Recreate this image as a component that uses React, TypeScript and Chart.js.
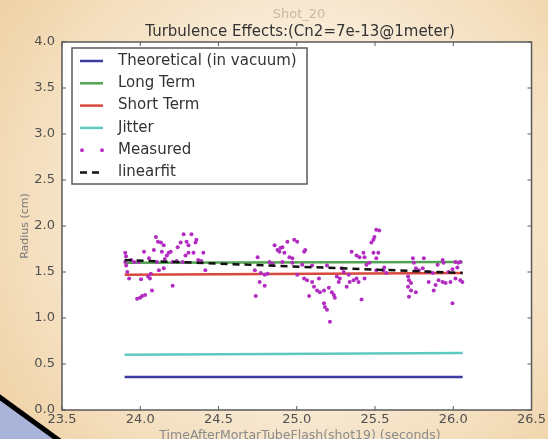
import React, { useEffect, useRef } from 'react';
import { Chart, registerables } from 'chart.js';
Chart.register(...registerables);

const titleTop = 'Shot_20';
const titleMain = 'Turbulence Effects:(Cn2=7e-13@1meter)';
const xAxisTitle = 'TimeAfterMortarTubeFlash(shot19) (seconds)';
const yAxisTitle = 'Radius (cm)';

const xTicks = [23.5, 24.0, 24.5, 25.0, 25.5, 26.0, 26.5];
const yTicks = [0.0, 0.5, 1.0, 1.5, 2.0, 2.5, 3.0, 3.5, 4.0];

const lineX = [23.9, 26.06];
const theoretical = [0.36, 0.36];
const longTerm = [1.6, 1.61];
const shortTerm = [1.47, 1.49];
const jitter = [0.6, 0.62];
const linearFit = [1.63, 1.49];

const measuredX = [
  23.904, 23.909, 23.904, 23.91, 23.917, 23.929, 23.942, 23.961, 23.98, 23.99, 23.999, 24.005, 24.012, 24.024, 24.031,
  24.05, 24.056, 24.062, 24.068, 24.075, 24.087, 24.1, 24.107, 24.113, 24.119, 24.132, 24.138, 24.15, 24.15, 24.157,
  24.17, 24.182, 24.195, 24.207, 24.207, 24.233, 24.239, 24.258, 24.27, 24.277, 24.289, 24.296, 24.308, 24.308, 24.327,
  24.34, 24.353, 24.359, 24.37, 24.39, 24.403, 24.416,
  24.732, 24.738, 24.75, 24.763, 24.77, 24.795, 24.795, 24.814, 24.826, 24.845, 24.858, 24.877, 24.889, 24.896, 24.908,
  24.908, 24.921, 24.94, 24.953, 24.972, 24.972, 24.984, 25.003, 25.003, 25.035, 25.047, 25.047, 25.054, 25.066, 25.079,
  25.098, 25.098, 25.11, 25.13, 25.142, 25.148, 25.174, 25.174, 25.18, 25.193, 25.193, 25.205, 25.212, 25.224, 25.237,
  25.243, 25.256, 25.268, 25.275, 25.287, 25.3, 25.319, 25.332, 25.338, 25.35, 25.363, 25.382, 25.382, 25.395, 25.401,
  25.414, 25.426, 25.433, 25.433, 25.445, 25.464, 25.477, 25.49, 25.49, 25.496, 25.508, 25.508, 25.508, 25.521, 25.527,
  25.553, 25.559, 25.572,
  25.711, 25.711, 25.717, 25.717, 25.73, 25.73, 25.742, 25.748, 25.761, 25.761, 25.78, 25.805, 25.812, 25.837, 25.843,
  25.869, 25.875, 25.887, 25.9, 25.906, 25.932, 25.932, 25.938, 25.951, 25.969, 25.982, 25.995, 25.995, 26.014, 26.014,
  26.026, 26.033, 26.045, 26.045, 26.058,
];
const measuredY = [
  1.71, 1.67, 1.61, 1.57, 1.5, 1.43, 1.63, 1.61, 1.21, 1.61, 1.22, 1.42, 1.24, 1.72, 1.25,
  1.45, 1.65, 1.43, 1.48, 1.3, 1.74, 1.88, 1.61, 1.83, 1.52, 1.82, 1.72, 1.79, 1.54, 1.64,
  1.68, 1.71, 1.72, 1.35, 1.61, 1.62, 1.77, 1.82, 1.61, 1.91, 1.68, 1.83, 1.79, 1.71, 1.91,
  1.71, 1.82, 1.85, 1.63, 1.62, 1.71, 1.52,
  1.52, 1.24, 1.66, 1.39, 1.49, 1.47, 1.35, 1.48, 1.61, 1.59, 1.79, 1.74, 1.72, 1.76, 1.77,
  1.61, 1.71, 1.83, 1.66, 1.65, 1.6, 1.85, 1.83, 1.47, 1.58, 1.72, 1.43, 1.74, 1.41, 1.24,
  1.39, 1.57, 1.34, 1.3, 1.43, 1.28, 1.3, 1.16, 1.12, 1.09, 1.57, 1.33, 0.96, 1.28, 1.25,
  1.22, 1.45, 1.39, 1.43, 1.54, 1.5, 1.34, 1.47, 1.39, 1.72, 1.41, 1.43, 1.68, 1.39, 1.66,
  1.2, 1.71, 1.66, 1.43, 1.58, 1.6, 1.82, 1.85, 1.71, 1.88, 1.96, 1.65, 1.52, 1.71, 1.95,
  1.52, 1.55, 1.49,
  1.45, 1.34, 1.41, 1.23, 1.38, 1.3, 1.65, 1.6, 1.54, 1.28, 1.52, 1.54, 1.65, 1.5, 1.39,
  1.49, 1.3, 1.36, 1.58, 1.41, 1.63, 1.39, 1.6, 1.38, 1.5, 1.39, 1.53, 1.16, 1.43, 1.61,
  1.55, 1.6, 1.61, 1.41, 1.39,
];

const FONT = '"DejaVu Sans", sans-serif';

const decorPlugin = {
  id: 'decor',
  beforeDraw(chart: any) {
    const { ctx, width, height, chartArea } = chart;
    ctx.save();
    const g = ctx.createRadialGradient(300, 210, 120, 300, 210, 400);
    g.addColorStop(0, '#fbf3e6');
    g.addColorStop(1, '#eecd9c');
    ctx.fillStyle = g;
    ctx.fillRect(0, 0, width, height);
    ctx.fillStyle = '#ffffff';
    ctx.fillRect(chartArea.left, chartArea.top, chartArea.right - chartArea.left, chartArea.bottom - chartArea.top);
    // slide decoration bottom-left
    ctx.beginPath();
    ctx.moveTo(0, 398);
    ctx.lineTo(58, 439);
    ctx.lineTo(0, 439);
    ctx.closePath();
    ctx.fillStyle = '#a9b4d8';
    ctx.fill();
    ctx.beginPath();
    ctx.moveTo(-2, 396);
    ctx.lineTo(60, 441);
    ctx.strokeStyle = '#000000';
    ctx.lineWidth = 5;
    ctx.stroke();
    ctx.restore();
  },
  afterDraw(chart: any) {
    const { ctx, chartArea } = chart;
    const { left, right, top, bottom } = chartArea;
    const xs = chart.scales.x;
    const ys = chart.scales.y;
    ctx.save();
    // frame
    ctx.strokeStyle = '#5a5a5a';
    ctx.lineWidth = 1.5;
    ctx.strokeRect(left, top, right - left, bottom - top);
    // inward ticks
    ctx.lineWidth = 1;
    ctx.beginPath();
    xTicks.forEach((v) => {
      const p = xs.getPixelForValue(v);
      ctx.moveTo(p, bottom);
      ctx.lineTo(p, bottom - 4);
      ctx.moveTo(p, top);
      ctx.lineTo(p, top + 4);
    });
    yTicks.forEach((v) => {
      const p = ys.getPixelForValue(v);
      ctx.moveTo(left, p);
      ctx.lineTo(left + 4, p);
      ctx.moveTo(right, p);
      ctx.lineTo(right - 4, p);
    });
    ctx.stroke();

    // titles
    ctx.textAlign = 'center';
    ctx.textBaseline = 'alphabetic';
    ctx.fillStyle = '#c7b7a6';
    ctx.font = `13px ${FONT}`;
    ctx.fillText(titleTop, 299, 18);
    ctx.fillStyle = '#333333';
    ctx.font = `15px ${FONT}`;
    ctx.fillText(titleMain, 300, 36);
    // axis titles
    ctx.fillStyle = '#8c8c8c';
    ctx.font = `12.5px ${FONT}`;
    ctx.fillText(xAxisTitle, 300, 439);
    ctx.save();
    ctx.translate(25, 226);
    ctx.rotate(-Math.PI / 2);
    ctx.textBaseline = 'middle';
    ctx.fillStyle = '#7a7a7a';
    ctx.font = `11px ${FONT}`;
    ctx.fillText(yAxisTitle, 0, 0);
    ctx.restore();

    // legend
    const bx = 72, by = 48, bw = 235, bh = 136;
    ctx.fillStyle = '#ffffff';
    ctx.fillRect(bx, by, bw, bh);
    ctx.strokeStyle = '#5a5a5a';
    ctx.lineWidth = 1.5;
    ctx.strokeRect(bx, by, bw, bh);
    chart.data.datasets.forEach((ds: any, i: number) => {
      const cy = 61 + i * 22.3;
      if (ds.showLine) {
        ctx.beginPath();
        ctx.setLineDash(ds.borderDash || []);
        ctx.strokeStyle = ds.borderColor;
        ctx.lineWidth = 2.5;
        ctx.moveTo(80, cy);
        ctx.lineTo(103, cy);
        ctx.stroke();
        ctx.setLineDash([]);
      } else {
        ctx.fillStyle = ds.backgroundColor;
        [82, 102].forEach((px) => {
          ctx.beginPath();
          ctx.arc(px, cy, 1.9, 0, Math.PI * 2);
          ctx.fill();
        });
      }
      ctx.fillStyle = '#333333';
      ctx.font = `15px ${FONT}`;
      ctx.textAlign = 'left';
      ctx.textBaseline = 'middle';
      ctx.fillText(ds.label, 118, cy);
    });
    ctx.restore();
  },
};

const toPts = (xs: number[], ys: number[]) => xs.map((x, i) => ({ x, y: ys[i] }));

export default function App() {
  const ref = useRef<HTMLCanvasElement | null>(null);
  useEffect(() => {
    if (!ref.current) return;
    const lineDs = (label: string, ys: number[], color: string, order: number, dash?: number[]) => ({
      label,
      data: toPts(lineX, ys),
      showLine: true,
      borderColor: color,
      backgroundColor: color,
      borderWidth: 2.5,
      borderDash: dash,
      pointRadius: 0,
      order,
    });
    const chart = new Chart(ref.current, {
      type: 'scatter',
      data: {
        datasets: [
          lineDs('Theoretical (in vacuum)', theoretical, '#3b3b9e', 5),
          lineDs('Long Term', longTerm, '#52a452', 4),
          lineDs('Short Term', shortTerm, '#d9483c', 3),
          lineDs('Jitter', jitter, '#5ec9c1', 2),
          {
            label: 'Measured',
            data: toPts(measuredX, measuredY),
            showLine: false,
            backgroundColor: '#b22cc2',
            borderColor: '#b22cc2',
            pointRadius: 2,
            pointBorderWidth: 0,
            order: 1,
          },
          lineDs('linearfit', linearFit, '#111111', 0, [7, 5]),
        ] as any,
      },
      options: {
        responsive: false,
        animation: false,
        layout: { padding: { left: 0, top: 42, right: 11, bottom: 0 } },
        plugins: { legend: { display: false }, title: { display: false }, tooltip: { enabled: false } },
        scales: {
          x: {
            type: 'linear',
            min: 23.5,
            max: 26.5,
            grid: { display: false, drawTicks: false },
            border: { display: false },
            afterBuildTicks: (s: any) => { s.ticks = xTicks.map((v) => ({ value: v })); },
            afterFit: (s: any) => { s.height = 29; },
            ticks: {
              padding: 2,
              color: '#4f4f4f',
              font: { family: FONT, size: 13 },
              callback: (v: any) => Number(v).toFixed(1),
            },
          },
          y: {
            type: 'linear',
            min: 0,
            max: 4,
            grid: { display: false, drawTicks: false },
            border: { display: false },
            afterBuildTicks: (s: any) => { s.ticks = yTicks.map((v) => ({ value: v })); },
            afterFit: (s: any) => { s.width = 62; },
            ticks: {
              padding: 7,
              color: '#4f4f4f',
              font: { family: FONT, size: 13 },
              callback: (v: any) => Number(v).toFixed(1),
            },
          },
        },
      } as any,
      plugins: [decorPlugin],
    });
    return () => chart.destroy();
  }, []);
  return (
    <div style={{ position: 'fixed', left: 0, top: 0, width: 548, height: 439 }}>
      <canvas ref={ref} width={548} height={439} />
    </div>
  );
}
